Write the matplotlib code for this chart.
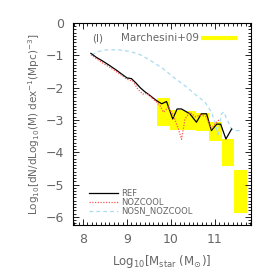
import numpy as np
import matplotlib
matplotlib.use("Agg")
import matplotlib.pyplot as plt
from matplotlib.patches import Rectangle
from matplotlib.ticker import MultipleLocator

# Marchesini+09 boxes (mass bin edges, log phi range)
m09_lo = [9.68, 9.98, 10.29, 10.57, 10.86, 11.16, 11.43]
m09_hi = [9.98, 10.29, 10.57, 10.86, 11.16, 11.43, 11.73]
m09_top = [-2.31, -2.69, -2.72, -2.78, -3.06, -3.59, -4.56]
m09_bot = [-3.19, -3.31, -3.31, -3.34, -3.66, -4.44, -5.88]

# REF
ref_x = [8.18, 8.3, 8.45, 8.6, 8.75, 8.9, 9.0, 9.1, 9.2, 9.3, 9.4, 9.52,
         9.67, 9.79, 9.90, 10.04, 10.14, 10.24, 10.43, 10.58, 10.69, 10.81,
         10.92, 11.04, 11.13, 11.25, 11.38]
ref_y = [-0.94, -1.06, -1.18, -1.31, -1.45, -1.6, -1.7, -1.72, -1.85, -2.0, -2.12, -2.24,
         -2.40, -2.50, -2.43, -2.97, -2.66, -2.66, -2.81, -3.07, -2.81, -2.81,
         -3.33, -3.13, -3.13, -3.59, -3.28]

# NOZCOOL
noz_x = [8.18, 8.3, 8.45, 8.6, 8.75, 8.9, 9.0, 9.14, 9.25, 9.36, 9.45, 9.55,
         9.65, 9.75, 9.83, 9.94, 10.05, 10.17, 10.24, 10.32, 10.43, 10.55,
         10.68, 10.8, 10.92, 11.02, 11.11]
noz_y = [-0.98, -1.1, -1.24, -1.36, -1.5, -1.64, -1.74, -1.81, -2.05, -2.2, -2.18, -2.3,
         -2.42, -2.55, -2.76, -2.6, -2.85, -3.28, -3.6, -2.97, -2.76, -2.9,
         -2.85, -2.9, -3.28, -3.1, -2.97]

# NOSN_NOZCOOL
nosn_x = [8.2, 8.35, 8.54, 8.8, 9.07, 9.3, 9.52, 9.82, 10.05, 10.2, 10.4, 10.58,
          10.77, 10.92, 11.0, 11.07, 11.15, 11.2, 11.27, 11.38, 11.45, 11.57]
nosn_y = [-0.99, -0.88, -0.83, -0.83, -0.88, -0.98, -1.15, -1.41, -1.67, -1.82, -2.03, -2.24,
          -2.44, -2.76, -3.07, -3.45, -2.81, -2.75, -2.97, -3.28, -3.33, -3.33]

TXT = "#666666"

fig = plt.figure(figsize=(2.74, 2.74), dpi=100)
fig.patch.set_facecolor("white")
ax = fig.add_axes([0.266, 0.179, 0.650, 0.737])

for lo, hi, top, bot in zip(m09_lo, m09_hi, m09_top, m09_bot):
    ax.add_patch(Rectangle((lo, bot), hi - lo, top - bot, facecolor="#ffff00",
                           edgecolor="none", zorder=1))

ax.plot(ref_x, ref_y, color="black", lw=0.9, zorder=3, label="REF")
ax.plot(noz_x, noz_y, color="#ff5555", lw=0.9, ls=(0, (1, 1.2)), zorder=3, label="NOZCOOL")
ax.plot(nosn_x, nosn_y, color="#a8dcf0", lw=0.9, ls=(0, (3, 2.5)), zorder=2, label="NOSN_NOZCOOL")

ax.set_xlim(7.77, 11.82)
ax.set_ylim(-6.25, 0)
ax.xaxis.set_major_locator(MultipleLocator(1))
ax.xaxis.set_minor_locator(MultipleLocator(0.1))
ax.yaxis.set_major_locator(MultipleLocator(1))
ax.yaxis.set_minor_locator(MultipleLocator(0.1))
ax.tick_params(which="both", direction="in", top=True, right=True,
               labelsize=9, labelcolor=TXT, width=0.6)
ax.tick_params(which="major", length=4, pad=6)
ax.tick_params(which="minor", length=2)
for s in ax.spines.values():
    s.set_linewidth(0.8)

ax.set_xlabel(r"Log$_{10}$[M$_{\rm star}$ (M$_{\odot}$)]", fontsize=8.5, color=TXT, labelpad=5)
ax.set_ylabel(r"Log$_{10}$[dN/dLog$_{10}$(M) dex$^{-1}$(Mpc)$^{-3}$]", fontsize=7.5,
              color=TXT, labelpad=3)

ax.text(8.2, -0.47, "(l)", fontsize=7.5, color=TXT, va="center", ha="left")
ax.text(8.86, -0.47, "Marchesini+09", fontsize=7.5, color=TXT, va="center", ha="left")
ax.plot([10.68, 11.5], [-0.47, -0.47], color="#ffff00", lw=3, solid_capstyle="butt")

leg = ax.legend(loc="lower left", bbox_to_anchor=(0.07, 0.03), fontsize=6,
                frameon=False, handlelength=3.5, handletextpad=0.4,
                labelspacing=0.0, borderaxespad=0)
for t in leg.get_texts():
    t.set_color(TXT)

fig.savefig("out.png", dpi=100)
